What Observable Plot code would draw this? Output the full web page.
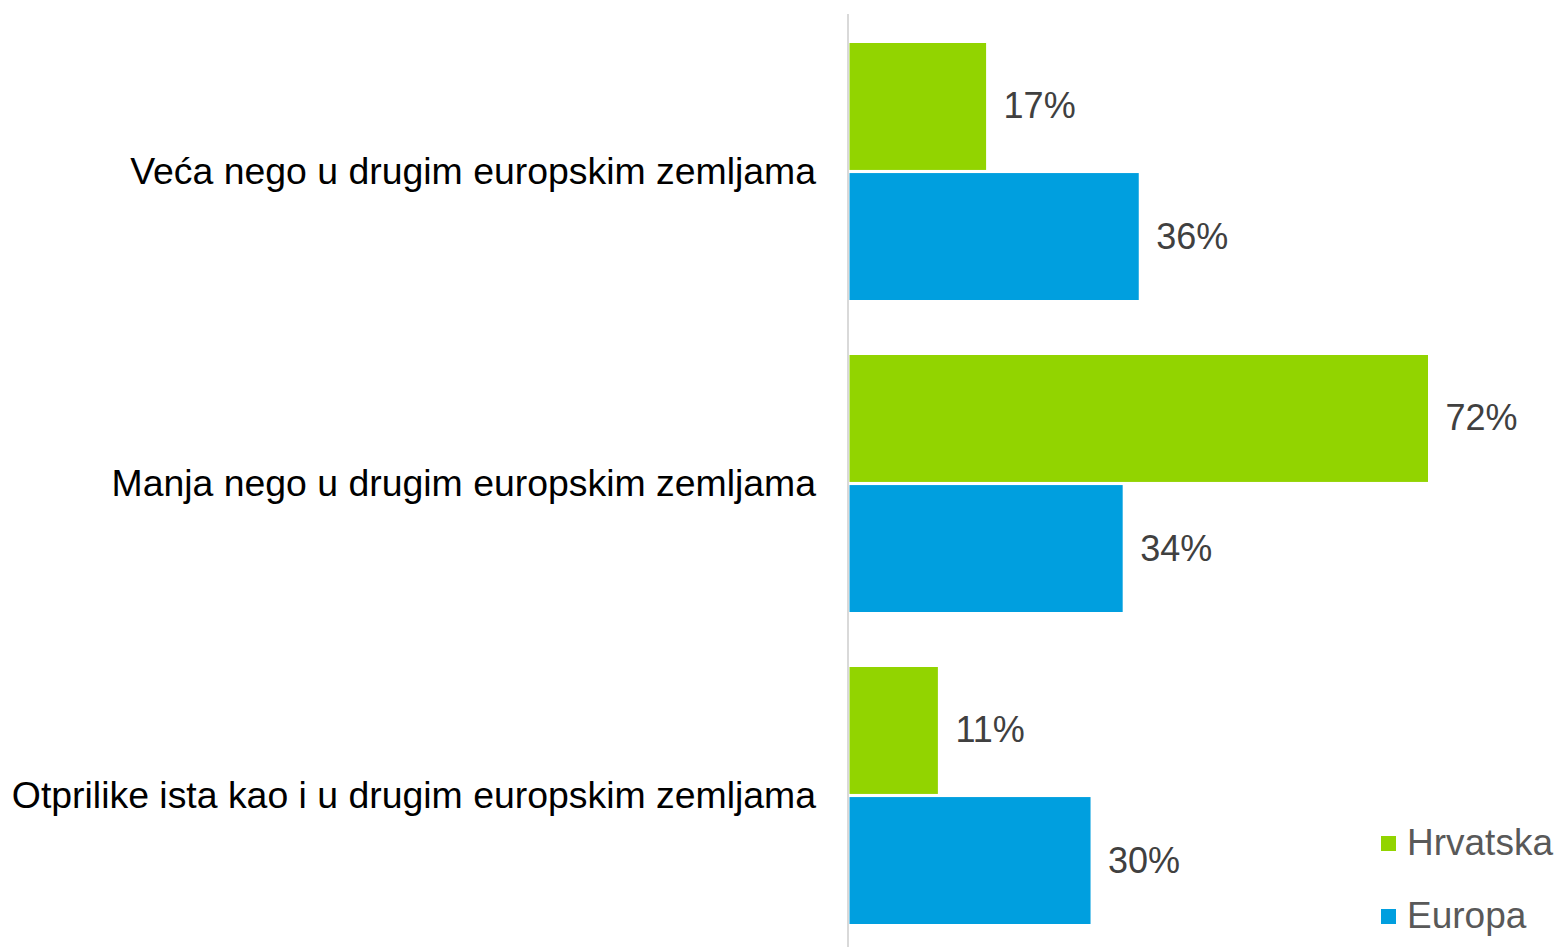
<!DOCTYPE html>
<html>
<head>
<meta charset="utf-8">
<script src="https://cdn.jsdelivr.net/npm/d3@7"></script>
<script src="https://cdn.jsdelivr.net/npm/@observablehq/plot@0.6"></script>
<style>
  html, body { margin: 0; padding: 0; background: #fff; }
  #wrap { position: relative; width: 1557px; height: 947px; font-family: "Liberation Sans", Arial, sans-serif; }
  #wrap svg { display: block; }
  .legend { position: absolute; left: 1381px; top: 0; font-size: 37px; color: #595959; }
  .legend .item { position: absolute; left: 0; white-space: nowrap; display: flex; align-items: center; }
  .legend .sw { width: 15px; height: 15px; margin-right: 11px; flex: none; }
</style>
</head>
<body>
<div id="wrap"></div>
<script>
const categories = [
  "Veća nego u drugim europskim zemljama",
  "Manja nego u drugim europskim zemljama",
  "Otprilike ista kao i u drugim europskim zemljama"
];
const seriesNames = ["Hrvatska", "Europa"];
const hrvatska = [17, 72, 11];
const europa = [36, 34, 30];
const colors = ["#92D400", "#009FDF"];

const rows = [];
categories.forEach((c, i) => {
  rows.push({category: c, series: seriesNames[0], value: hrvatska[i]});
  rows.push({category: c, series: seriesNames[1], value: europa[i]});
});

const padInner = 0.177;
const yRange = [42, 924];
const bw = (yRange[1] - yRange[0]) / (categories.length - padInner) * (1 - padInner);
const gap = 3;
const half = (bw + gap) / 2;

const green = rows.filter(d => d.series === seriesNames[0]);
const blue = rows.filter(d => d.series === seriesNames[1]);
const barCenter = (bw - gap) / 4 + gap / 2;

const plot = Plot.plot({
  width: 1557,
  height: 947,
  marginLeft: 849.5,
  marginRight: 0,
  marginTop: 14,
  marginBottom: 0,
  style: {fontFamily: "Liberation Sans, Arial, sans-serif", fontSize: "37.4px", color: "#000", background: "#fff"},
  x: {domain: [0, 72], range: [849.5, 1428], axis: null},
  y: {domain: categories, range: yRange, paddingInner: padInner, paddingOuter: 0, label: null, tickSize: 0, tickPadding: 34},
  color: {domain: seriesNames, range: colors},
  marks: [
    Plot.barX(green, {x: "value", y: "category", fill: "series", insetBottom: half}),
    Plot.barX(blue, {x: "value", y: "category", fill: "series", insetTop: half}),
    Plot.ruleX([0], {stroke: "#D9D9D9", strokeWidth: 2, dx: -2}),
    Plot.text(green, {x: "value", y: "category", text: d => d.value + "%", dx: 17, dy: -barCenter, textAnchor: "start", fill: "#404040", fontSize: 36}),
    Plot.text(blue, {x: "value", y: "category", text: d => d.value + "%", dx: 17, dy: barCenter, textAnchor: "start", fill: "#404040", fontSize: 36})
  ]
});
const wrap = document.getElementById("wrap");
wrap.appendChild(plot);

const legend = document.createElement("div");
legend.className = "legend";
const legendTops = [822, 895];
seriesNames.forEach((s, i) => {
  const item = document.createElement("div");
  item.className = "item";
  item.style.top = legendTops[i] + "px";
  const sw = document.createElement("span");
  sw.className = "sw";
  sw.style.background = colors[i];
  const t = document.createElement("span");
  t.textContent = s;
  item.appendChild(sw);
  item.appendChild(t);
  legend.appendChild(item);
});
wrap.appendChild(legend);
</script>
</body>
</html>
